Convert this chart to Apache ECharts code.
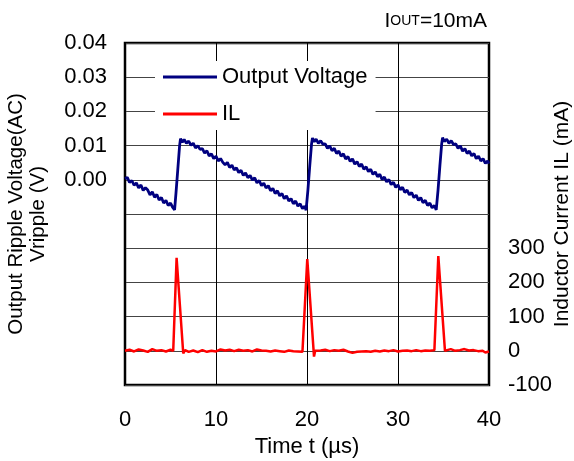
<!DOCTYPE html>
<html>
<head>
<meta charset="utf-8">
<script src="https://cdn.jsdelivr.net/npm/echarts@6/dist/echarts.min.js"></script>
<style>
  html, body { margin: 0; padding: 0; background: #fff; }
  #chart { width: 574px; height: 461px; }
</style>
</head>
<body>
<div id="chart"></div>
<script>
// ripple voltage (V) vs time (µs)
const vTime = [
  0, 0.25, 0.5, 0.75, 1, 1.25, 1.5, 1.75, 2, 2.25, 2.5, 2.75, 3, 3.25, 3.5, 3.75, 4, 4.25, 4.5, 4.75, 5, 5.25, 5.45,
  5.6, 5.8, 6.0, 6.1, 6.3, 6.5, 6.75, 7.0,
  7.25, 7.5, 7.75, 8, 8.25, 8.5, 8.75, 9, 9.25, 9.5, 9.75, 10, 10.25, 10.5, 10.75, 11, 11.25, 11.5, 11.75, 12,
  12.25, 12.5, 12.75, 13, 13.25, 13.5, 13.75, 14, 14.25, 14.5, 14.75, 15, 15.25, 15.5, 15.75, 16, 16.25, 16.5,
  16.75, 17, 17.25, 17.5, 17.75, 18, 18.25, 18.5, 18.75, 19, 19.25, 19.5, 19.75, 19.9,
  20.1, 20.3, 20.5, 20.6, 20.8, 21.0, 21.25, 21.5, 21.75,
  22, 22.25, 22.5, 22.75, 23, 23.25, 23.5, 23.75, 24, 24.25, 24.5, 24.75, 25, 25.25, 25.5, 25.75, 26, 26.25,
  26.5, 26.75, 27, 27.25, 27.5, 27.75, 28, 28.25, 28.5, 28.75, 29, 29.25, 29.5, 29.75, 30, 30.25, 30.5, 30.75,
  31, 31.25, 31.5, 31.75, 32, 32.25, 32.5, 32.75, 33, 33.25, 33.5, 33.75, 34, 34.2,
  34.4, 34.6, 34.8, 34.9, 35.1, 35.35, 35.6, 35.85, 36.1,
  36.35, 36.6, 36.85, 37.1, 37.35, 37.6, 37.85, 38.1, 38.35, 38.6, 38.85, 39.1, 39.35, 39.6, 39.85, 40
];
const vRipple = [
  0.0003, 0.0007, -0.0008, -0.0002, -0.0016, -0.0009, -0.0024, -0.0015, -0.0031, -0.0023, -0.0030, -0.0044, -0.0035, -0.0051, -0.0043, -0.0059, -0.0052, -0.0068, -0.0060, -0.0075, -0.0068, -0.0081, -0.0088,
  -0.0040, 0.0030, 0.0100, 0.0120, 0.0110, 0.0118, 0.0107, 0.0113,
  0.0101, 0.0107, 0.0093, 0.0100, 0.0089, 0.0091, 0.0078, 0.0085, 0.0070, 0.0076, 0.0062, 0.0069, 0.0055, 0.0062, 0.0051, 0.0044, 0.0051, 0.0036, 0.0043, 0.0029,
  0.0035, 0.0021, 0.0028, 0.0013, 0.0020, 0.0006, 0.0013, -0.0001, 0.0006, -0.0009, -0.0002, -0.0017, -0.0010, -0.0024, -0.0017, -0.0032, -0.0025, -0.0040,
  -0.0032, -0.0047, -0.0040, -0.0055, -0.0047, -0.0062, -0.0055, -0.0070, -0.0062, -0.0077, -0.0070, -0.0084, -0.0077, -0.0089,
  -0.0030, 0.0040, 0.0105, 0.0122, 0.0111, 0.0119, 0.0107, 0.0114, 0.0104,
  0.0105, 0.0092, 0.0099, 0.0085, 0.0092, 0.0077, 0.0084, 0.0069, 0.0076, 0.0061, 0.0068, 0.0054, 0.0061, 0.0046, 0.0053, 0.0039, 0.0046, 0.0031,
  0.0038, 0.0024, 0.0031, 0.0016, 0.0023, 0.0009, 0.0016, 0.0001, 0.0008, -0.0006, 0.0001, -0.0014, -0.0007, -0.0022, -0.0015, -0.0029, -0.0022, -0.0037,
  -0.0030, -0.0044, -0.0037, -0.0052, -0.0045, -0.0060, -0.0052, -0.0067, -0.0060, -0.0075, -0.0068, -0.0082, -0.0075, -0.0088,
  -0.0030, 0.0040, 0.0105, 0.0123, 0.0112, 0.0119, 0.0107, 0.0114, 0.0103,
  0.0105, 0.0092, 0.0099, 0.0084, 0.0091, 0.0077, 0.0084, 0.0070, 0.0077, 0.0062, 0.0069, 0.0055, 0.0062, 0.0048, 0.0055, 0.0047
];

// inductor current (mA) vs time (µs)
const iTime = [
  0, 0.5, 1, 1.5, 2, 2.5, 3, 3.5, 4, 4.5, 5, 5.3, 5.67, 6.4, 6.6, 7, 7.5, 8, 8.5, 9, 9.5, 10,
  10.5, 11, 11.5, 12, 12.5, 13, 13.5, 14, 14.5, 15, 15.5, 16, 16.5, 17, 17.5, 18, 18.5, 19, 19.5, 19.67,
  20.03, 20.77, 20.9, 21.1, 21.5, 22, 22.5, 23, 23.5, 24, 24.5, 25, 25.5, 26, 26.5, 27, 27.5, 28, 28.5,
  29, 29.5, 30, 30.5, 31, 31.5, 32, 32.5, 33, 33.5, 34, 34.1, 34.43, 35.16, 35.4, 35.8, 36.3, 36.8,
  37.3, 37.8, 38.3, 38.8, 39.3, 39.6, 40
];
const iL = [
  0, 3, -2, 4, 1, -3, 5, 0, 2, -2, 3, 0, 272, -8, 2, -3, 1, -4, 2, -3, 0, -2,
  4, 1, 3, -1, 3, 0, 2, -2, 4, 1, 0, -2, 1, -1, -3, 1, -1, -2, -3, -1,
  268, -17, 0, 4, 1, 3, -1, 2, 0, 3, -2, -6, -3, -2, -1, -3, 0, -2, 1,
  -1, 2, -2, 0, 1, -1, 2, -1, 1, 0, 2, 0, 277, 0, 2, 5, 0, 2,
  5, 1, 2, -1, 0, -5, -2
];

const xTicks = [0, 10, 20, 30, 40];

const font = "'Liberation Sans', Arial, sans-serif";
const chart = echarts.init(document.getElementById("chart"));

const option = {
  animation: false,
  textStyle: { fontFamily: font, color: "#000" },
  title: {
    text: "{a|I}{b|OUT}{a|=10mA}",
    right: 82,
    top: 6,
    textStyle: {
      fontWeight: "normal",
      rich: {
        a: { fontSize: 21, color: "#000", fontFamily: font, fontWeight: "normal" },
        b: { fontSize: 14, color: "#000", fontFamily: font, fontWeight: "normal" },
      },
    },
  },
  legend: {
    orient: "vertical",
    left: 155,
    top: 61,
    padding: [5, 8, 5, 8],
    backgroundColor: "#fff",
    icon: "rect",
    itemWidth: 54,
    itemHeight: 3,
    itemGap: 15,
    textStyle: { fontSize: 22, lineHeight: 20, color: "#000", fontFamily: font },
    data: ["Output Voltage", "IL"],
  },
  grid: {
    left: 125,
    right: 85,
    top: 43,
    bottom: 76,
    containLabel: false,
    outerBoundsMode: "none",
    show: true,
    borderColor: "#000",
    borderWidth: 2.5,
  },
  xAxis: {
    type: "value",
    min: xTicks[0],
    max: xTicks[xTicks.length - 1],
    interval: 10,
    name: "Time t (µs)",
    nameLocation: "middle",
    nameGap: 49,
    nameTextStyle: { fontSize: 22, color: "#000", fontFamily: font },
    axisLine: { show: false },
    axisTick: { show: false },
    axisLabel: { fontSize: 22, color: "#000", margin: 24, fontFamily: font },
    splitLine: { show: true, lineStyle: { color: "#000", width: 1 } },
  },
  yAxis: [
    {
      type: "value",
      min: -0.06,
      max: 0.04,
      interval: 0.01,
      name: "Output Ripple Voltage(AC)\nVripple (V)",
      nameLocation: "middle",
      nameRotate: 90,
      nameGap: 76,
      nameTextStyle: { fontSize: 20.5, lineHeight: 22, color: "#000", fontFamily: font },
      axisLine: { show: false },
      axisTick: { show: false },
      axisLabel: {
        fontSize: 22,
        color: "#000",
        margin: 18,
        fontFamily: font,
        formatter: (v) => (v > -0.0001 ? v.toFixed(2) : ""),
      },
      splitLine: { show: true, lineStyle: { color: "#444", width: 1 } },
    },
    {
      type: "value",
      position: "right",
      min: -100,
      max: 900,
      interval: 100,
      name: "Inductor Current IL (mA)",
      nameLocation: "middle",
      nameRotate: 90,
      nameGap: 63,
      nameMoveOverlap: false,
      nameTextStyle: { fontSize: 21, color: "#000", fontFamily: font },
      axisLine: { show: false },
      axisTick: { show: false },
      axisLabel: {
        fontSize: 22,
        color: "#000",
        margin: 19,
        fontFamily: font,
        formatter: (v) => (v <= 300 ? String(v) : ""),
      },
      splitLine: { show: false },
    },
  ],
  series: [
    {
      name: "Output Voltage",
      type: "line",
      yAxisIndex: 0,
      symbol: "none",
      lineStyle: { color: "#000080", width: 2.8 },
      itemStyle: { color: "#000080" },
      data: vTime.map((t, i) => [t, vRipple[i]]),
    },
    {
      name: "IL",
      type: "line",
      yAxisIndex: 1,
      symbol: "none",
      lineStyle: { color: "#ff0000", width: 2.5 },
      itemStyle: { color: "#ff0000" },
      data: iTime.map((t, i) => [t, iL[i]]),
    },
  ],
};

chart.setOption(option);
</script>
</body>
</html>
